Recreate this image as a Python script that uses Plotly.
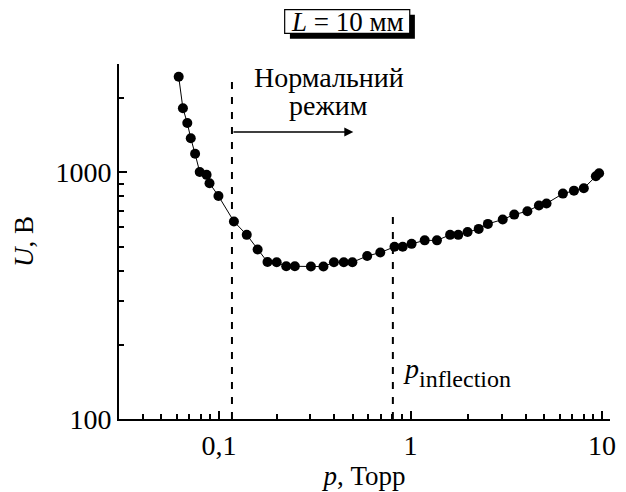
import math
import plotly.graph_objects as go

# Breakdown voltage vs. pressure, gap L = 10 mm
pressure = [0.0615, 0.0647, 0.0682, 0.0711, 0.0749, 0.0792, 0.0860, 0.0891, 0.0992,
            0.1195, 0.1394, 0.1589, 0.1789, 0.1998, 0.2241, 0.2486, 0.3016, 0.3506,
            0.3977, 0.4477, 0.4966, 0.5933, 0.6947, 0.8241, 0.9095, 1.012, 1.185,
            1.373, 1.608, 1.774, 1.984, 2.268, 2.533, 3.027, 3.477, 4.073, 4.679,
            5.127, 6.244, 7.131, 8.027, 9.28, 9.65]
voltage = [2441, 1818, 1586, 1375, 1189, 1003, 977, 904, 802,
           632, 558, 487, 433, 432, 416, 416, 415, 415,
           432, 432, 432, 458, 473, 499, 499, 513, 530,
           530, 558, 558, 573, 590, 618, 644, 674, 696, 734,
           748, 820, 843, 862, 964, 991]

# Boundaries of the normal regime and the inflection point
p_normal_start = 0.1167
p_inflection = 0.808
normal_line_top = 2381
inflection_line_top = 700
arrow_end = 0.502
arrow_level = 1458

x_range = [0.03, 11]
y_range = [100, 2750]
x_tickvals = [0.1, 1, 10]
x_ticktext = ["0,1", "1", "10"]
x_minor = [0.03, 0.04, 0.05, 0.06, 0.07, 0.08, 0.09,
           0.2, 0.3, 0.4, 0.5, 0.6, 0.7, 0.8, 0.9,
           2, 3, 4, 5, 6, 7, 8, 9]
y_tickvals = [100, 1000]
y_ticktext = ["100", "1000"]
y_minor = [200, 300, 400, 500, 600, 700, 800, 900, 2000]

FONT = "Liberation Serif, DejaVu Serif, serif"

fig = go.Figure()

fig.add_trace(go.Scatter(
    x=pressure, y=voltage, mode="lines+markers",
    line=dict(color="black", width=1),
    marker=dict(color="black", size=10),
    showlegend=False, hoverinfo="skip"))

for px, top in [(p_normal_start, normal_line_top), (p_inflection, inflection_line_top)]:
    fig.add_trace(go.Scatter(
        x=[px, px], y=[y_range[0], top], mode="lines",
        line=dict(color="black", width=2, dash="7px,8px"),
        showlegend=False, hoverinfo="skip"))

# Arrow pointing into the normal regime
fig.add_annotation(
    x=math.log10(arrow_end), y=math.log10(arrow_level),
    ax=math.log10(p_normal_start), ay=math.log10(arrow_level),
    xref="x", yref="y", axref="x", ayref="y",
    text="", showarrow=True, arrowhead=2, arrowsize=1.2, arrowwidth=1.5,
    arrowcolor="black")

fig.add_annotation(
    x=math.log10(0.373), y=math.log10(2427), xref="x", yref="y",
    xanchor="center", yanchor="middle",
    text="Нормальний", showarrow=False,
    font=dict(family=FONT, size=28, color="black"))
fig.add_annotation(
    x=math.log10(0.373), y=math.log10(1860), xref="x", yref="y",
    xanchor="center", yanchor="middle",
    text="режим", showarrow=False,
    font=dict(family=FONT, size=28, color="black"))

# Inflection label: italic p with a smaller subscript
fig.add_annotation(
    x=math.log10(0.888), y=math.log10(160.6), xref="x", yref="y",
    xanchor="left", yanchor="middle",
    text="<i>p</i>", showarrow=False,
    font=dict(family=FONT, size=28, color="black"))
fig.add_annotation(
    x=math.log10(1.074), y=math.log10(145), xref="x", yref="y",
    xanchor="left", yanchor="middle",
    text="inflection", showarrow=False,
    font=dict(family=FONT, size=24, color="black"))

# Framed label with drop shadow above the plot
W, H = 497.0, 357.0
L0, B0 = 119.0, 421.0


def px_x(v):
    return (v - L0) / W


def px_y(v):
    return (B0 - v) / H


fig.add_shape(type="rect", xref="paper", yref="paper", layer="below",
              x0=px_x(292), x1=px_x(418.5), y0=px_y(38.5), y1=px_y(14.5),
              fillcolor="black", line=dict(width=0))
fig.add_shape(type="rect", xref="paper", yref="paper", layer="below",
              x0=px_x(286.7), x1=px_x(413.3), y0=px_y(33.3), y1=px_y(9.3),
              fillcolor="white", line=dict(color="black", width=1.2))
fig.add_annotation(
    x=px_x(350), y=px_y(21.8), xref="paper", yref="paper",
    xanchor="center", yanchor="middle",
    text="<i>L</i> = 10 мм", showarrow=False,
    font=dict(family=FONT, size=27, color="black"))

axis_common = dict(
    showline=True, linecolor="black", linewidth=2,
    ticks="inside", ticklen=8, tickwidth=1.5, tickcolor="black",
    showgrid=False, zeroline=False, mirror=False,
    tickfont=dict(family=FONT, size=28, color="black"),
)

fig.update_xaxes(
    type="log", range=[math.log10(x_range[0]), math.log10(x_range[1])],
    tickmode="array", tickvals=x_tickvals, ticktext=x_ticktext,
    minor=dict(tickmode="array", tickvals=x_minor, ticks="inside",
               ticklen=5, tickwidth=1.5, tickcolor="black", showgrid=False),
    title=dict(text="<i>p</i>, Торр", font=dict(family=FONT, size=27, color="black"),
               standoff=3),
    **axis_common)
fig.update_yaxes(
    type="log", range=[math.log10(y_range[0]), math.log10(y_range[1])],
    tickmode="array", tickvals=y_tickvals, ticktext=y_ticktext,
    minor=dict(tickmode="array", tickvals=y_minor, ticks="inside",
               ticklen=5, tickwidth=1.5, tickcolor="black", showgrid=False),
    title=dict(text="<i>U</i>, В", font=dict(family=FONT, size=27, color="black"),
               standoff=14),
    **axis_common)

fig.update_layout(
    width=626, height=492,
    margin=dict(l=119, r=10, t=64, b=71),
    plot_bgcolor="white", paper_bgcolor="white",
)

fig.write_html("out.html")
